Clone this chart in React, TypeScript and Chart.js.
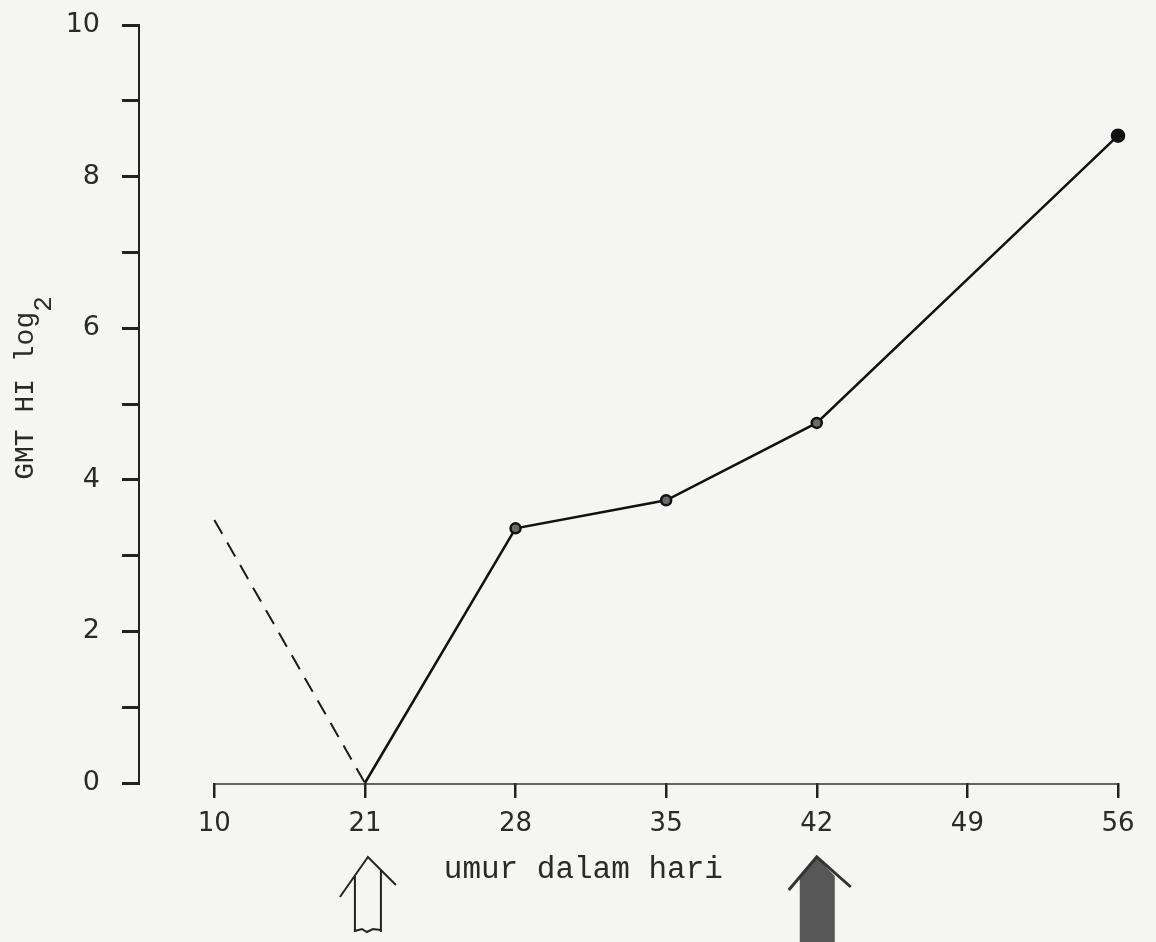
import React, { useEffect, useRef } from 'react';
import { Chart, registerables } from 'chart.js';

Chart.register(...registerables);

// ---- data ----
const dayLabels = ['10', '21', '28', '35', '42', '49', '56'];
const gmtMeasured: (number | null)[] = [null, 0, 3.36, 3.73, 4.75, null, 8.54];
const gmtExtrapolated: (number | null)[] = [3.47, 0, null, null, null, null, null];
const yTickValues = [0, 1, 2, 3, 4, 5, 6, 7, 8, 9, 10];
const vaccinationDays = ['21', '42'];
const xTitle = 'umur dalam hari';
const yTitleMain = 'GMT HI log';
const yTitleSub = '2';

const MONO = '"Liberation Mono", "DejaVu Sans Mono", monospace';

const toPoints = (arr: (number | null)[]) =>
  arr
    .map((v, i) => (v === null ? null : { x: i, y: v }))
    .filter((p) => p !== null) as { x: number; y: number }[];

const annotations = {
  id: 'annotations',
  beforeDatasetsDraw(chart: any) {
    const { ctx, scales } = chart;
    const x = scales.x;
    const y = scales.y;
    const base = y.getPixelForValue(0);
    ctx.save();
    ctx.strokeStyle = '#333';
    ctx.lineWidth = 1.6;
    ctx.beginPath();
    ctx.moveTo(x.getPixelForValue(0), base + 1);
    ctx.lineTo(x.getPixelForValue(dayLabels.length - 1), base + 1);
    ctx.stroke();
    ctx.restore();
  },
  afterDraw(chart: any) {
    const { ctx, scales, chartArea } = chart;
    const x = scales.x;
    const y = scales.y;
    const base = y.getPixelForValue(0);
    ctx.save();

    // x axis title
    ctx.fillStyle = '#2a2a2a';
    ctx.font = `31px ${MONO}`;
    ctx.textAlign = 'center';
    ctx.textBaseline = 'alphabetic';
    ctx.fillText(xTitle, x.getPixelForValue(2.45), base + 95);

    // y axis title with a real subscript
    const midY = (chartArea.top + chartArea.bottom) / 2 - 16;
    ctx.save();
    ctx.translate(33, midY);
    ctx.rotate(-Math.PI / 2);
    ctx.font = `28px ${MONO}`;
    const w1 = ctx.measureText(yTitleMain).width;
    ctx.font = `26px ${MONO}`;
    const w2 = ctx.measureText(yTitleSub).width;
    const start = -(w1 + w2) / 2;
    ctx.textAlign = 'left';
    ctx.font = `28px ${MONO}`;
    ctx.fillText(yTitleMain, start, 0);
    ctx.font = `26px ${MONO}`;
    ctx.fillText(yTitleSub, start + w1, 18);
    ctx.restore();

    // vaccination arrows
    vaccinationDays.forEach((d, k) => {
      const idx = dayLabels.indexOf(d);
      const cx = x.getPixelForValue(idx);
      if (k === 0) {
        const a = cx + 3;
        ctx.strokeStyle = '#222';
        ctx.lineWidth = 2;
        ctx.beginPath();
        ctx.moveTo(a - 28, base + 114);
        ctx.lineTo(a, base + 74);
        ctx.lineTo(a + 28, base + 102);
        ctx.moveTo(a - 13, base + 93);
        ctx.lineTo(a - 13, base + 149);
        ctx.moveTo(a + 13, base + 87);
        ctx.lineTo(a + 13, base + 149);
        ctx.moveTo(a - 13, base + 148);
        ctx.lineTo(a - 6, base + 146);
        ctx.lineTo(a - 1, base + 149);
        ctx.lineTo(a + 5, base + 146);
        ctx.lineTo(a + 13, base + 147);
        ctx.stroke();
      } else {
        const b = cx;
        ctx.fillStyle = '#575757';
        ctx.beginPath();
        ctx.moveTo(b, base + 74);
        ctx.lineTo(b + 18, base + 93);
        ctx.lineTo(b + 18, base + 170);
        ctx.lineTo(b - 17, base + 170);
        ctx.lineTo(b - 17, base + 93);
        ctx.closePath();
        ctx.fill();
        ctx.strokeStyle = '#333';
        ctx.lineWidth = 3;
        ctx.beginPath();
        ctx.moveTo(b - 28, base + 107);
        ctx.lineTo(b, base + 74);
        ctx.lineTo(b + 34, base + 104);
        ctx.stroke();
      }
    });
    ctx.restore();
  },
};

export default function App() {
  const canvasRef = useRef<HTMLCanvasElement | null>(null);

  useEffect(() => {
    document.body.style.margin = '0';
    document.body.style.background = '#f5f5f3';
    const canvas = canvasRef.current;
    if (!canvas) return;
    const measured = toPoints(gmtMeasured);
    const extrapolated = toPoints(gmtExtrapolated);

    const chart = new Chart(canvas, {
      type: 'line',
      data: {
        datasets: [
          {
            label: 'extrapolated',
            data: extrapolated,
            borderColor: '#1a1a1a',
            borderWidth: 2,
            borderDash: [16, 10],
            pointRadius: 0,
            fill: false,
          },
          {
            label: 'GMT HI',
            data: measured,
            borderColor: '#111',
            borderWidth: 2.5,
            pointRadius: (c: any) =>
              c.dataIndex === measured.length - 1 ? 6 : c.raw && c.raw.y === 0 ? 0 : 5,
            pointBackgroundColor: (c: any) =>
              c.dataIndex === measured.length - 1 ? '#111' : '#6a6a6a',
            pointBorderColor: '#111',
            pointBorderWidth: 2.5,
            fill: false,
            clip: false,
          },
        ],
      },
      options: {
        responsive: false,
        animation: false,
        events: [],
        layout: { padding: { top: 25, right: 38, left: 0, bottom: 0 } },
        plugins: {
          legend: { display: false },
          tooltip: { enabled: false },
          title: { display: false },
        },
        elements: { line: { tension: 0 } },
        scales: {
          x: {
            type: 'linear',
            min: -0.5,
            max: dayLabels.length - 1,
            afterBuildTicks: (axis: any) => {
              axis.ticks = dayLabels.map((_, i) => ({ value: i }));
            },
            afterFit: (axis: any) => {
              axis.height = 159;
            },
            ticks: {
              callback: (v: any) => dayLabels[Math.round(Number(v))] ?? '',
              color: '#2a2a2a',
              font: { family: '"DejaVu Sans", sans-serif', size: 26 },
              padding: 11,
              maxRotation: 0,
              autoSkip: false,
            },
            grid: {
              display: true,
              drawOnChartArea: false,
              drawTicks: true,
              tickLength: 15,
              color: '#222',
              lineWidth: 2.5,
            },
            border: { display: false },
          },
          y: {
            type: 'linear',
            min: 0,
            max: 10,
            afterBuildTicks: (axis: any) => {
              axis.ticks = yTickValues.map((v) => ({ value: v }));
            },
            afterFit: (axis: any) => {
              axis.width = 139;
              axis.paddingTop = 0;
              axis.paddingBottom = 0;
            },
            ticks: {
              callback: (v: any) => (Number(v) % 2 === 0 ? String(v) : ''),
              color: '#2a2a2a',
              font: { family: '"DejaVu Sans", sans-serif', size: 27 },
              padding: 22,
              autoSkip: false,
            },
            grid: {
              display: true,
              drawOnChartArea: false,
              drawTicks: true,
              tickLength: 17,
              color: '#222',
              lineWidth: 3,
            },
            border: { display: true, color: '#222', width: 2 },
            title: { display: false },
          },
        },
      },
      plugins: [annotations],
    } as any);

    return () => chart.destroy();
  }, []);

  return (
    <div style={{ width: 1156, height: 942, position: 'relative' }}>
      <canvas ref={canvasRef} width={1156} height={942} style={{ display: 'block' }} />
    </div>
  );
}
